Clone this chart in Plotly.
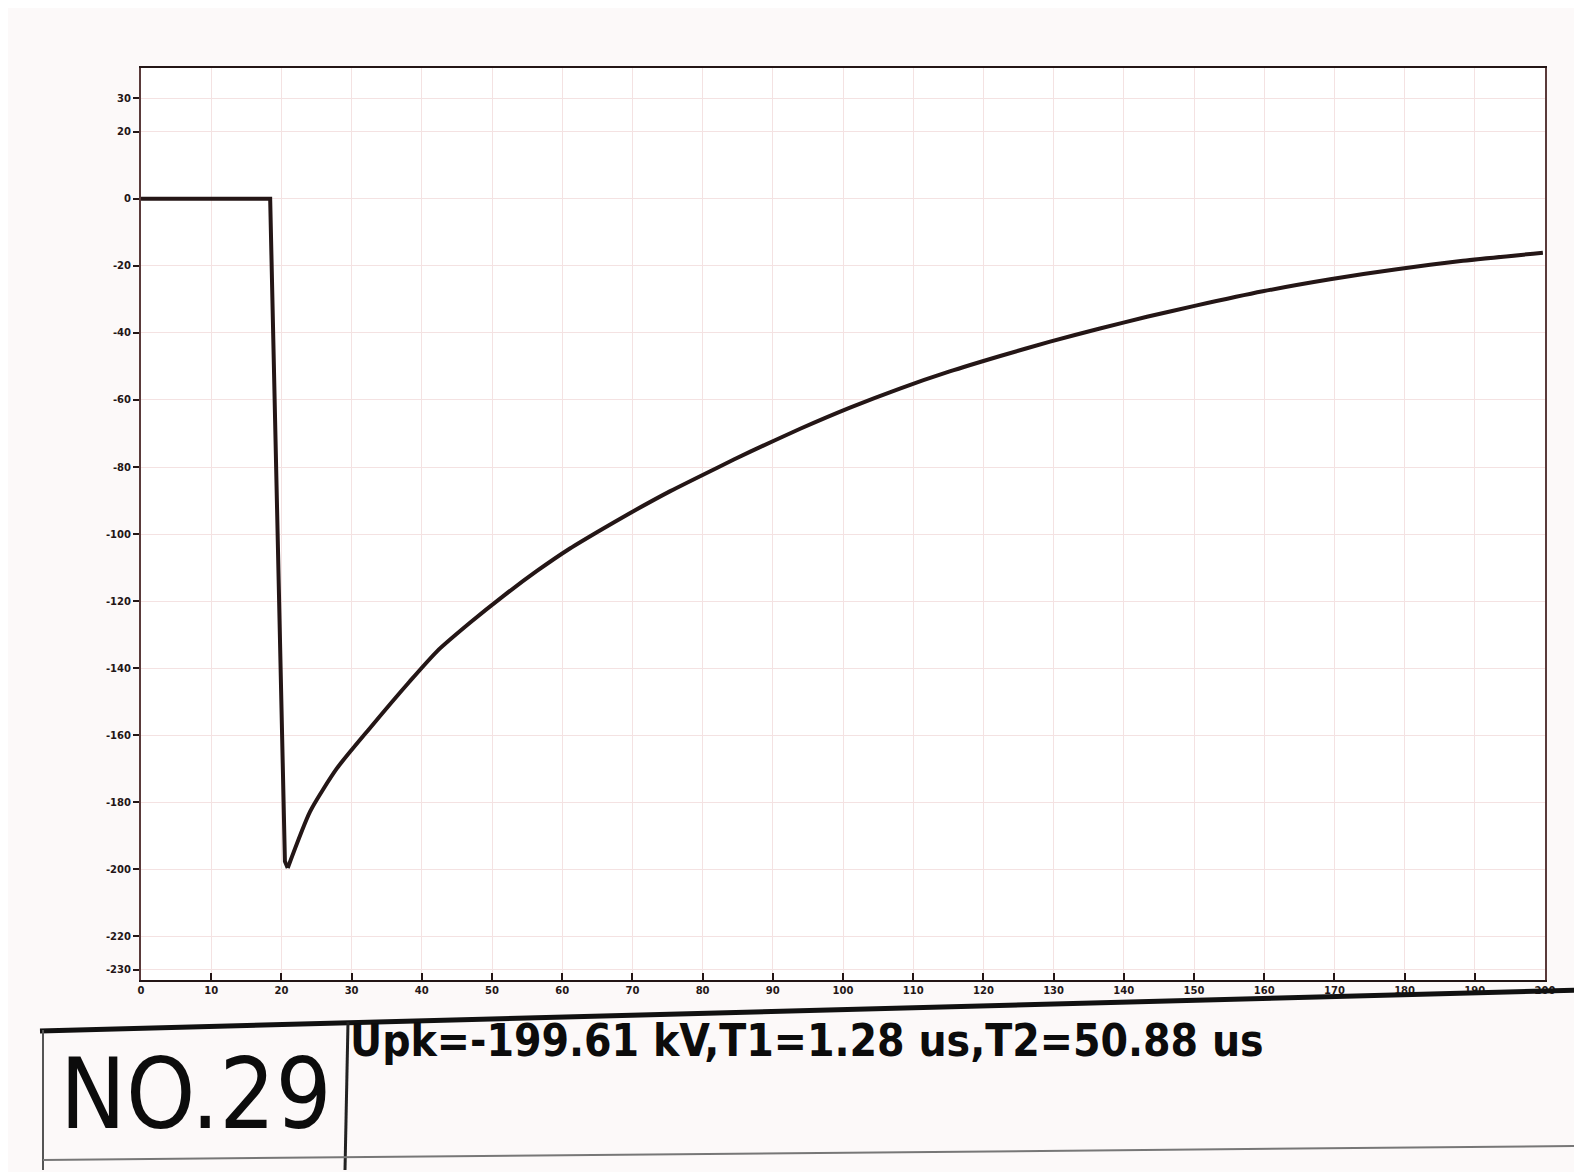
import plotly.graph_objects as go

# ---- data ----
time_us = [0, 18.4, 20.5, 20.9, 24.1, 27.9, 32.6, 38.3, 42.2, 46.9, 51.6, 56.4,
           61.1, 65.8, 69.2, 75.4, 82.1, 86.8, 93.9, 101.0, 108.1, 115.2, 122.4,
           129.5, 136.6, 143.3, 150.4, 159.8, 169.4, 178.9, 188.3, 199.7]
voltage_kv = [0, 0, -197.6, -199.6, -182.7, -169.9, -157.9, -143.9, -134.9, -126.4,
              -118.5, -111.0, -104.3, -98.4, -94.3, -87.2, -80.2, -75.4, -68.6,
              -62.3, -56.6, -51.5, -46.9, -42.6, -38.7, -35.2, -31.8, -27.6,
              -24.0, -21.0, -18.5, -16.1]
PEAK = 3  # index of the crest: front drawn straight, tail drawn smooth

x_ticks = list(range(0, 201, 10))
x_tick_text = [str(v) for v in x_ticks]
y_ticks = [-230] + list(range(-220, 21, 20)) + [30]
y_tick_text = [str(v) for v in y_ticks]

record_no = "NO.29"
record_info = "Upk=-199.61 kV,T1=1.28 us,T2=50.88 us"

# ---- layout geometry (reference pixels; page body adds an 8px margin) ----
OFF = 8
W, H = 1582 - OFF, 1172 - OFF
L, R, T, B = 141 - OFF, 1545 - OFF, 68 - OFF, 980 - OFF


def xp(px):
    return (px - OFF - L) / (R - L)


def yp(py):
    return (B - (py - OFF)) / (B - T)


ink = "#241616"

fig = go.Figure()
fig.add_trace(go.Scatter(x=time_us[:PEAK + 1], y=voltage_kv[:PEAK + 1], mode="lines",
                         line=dict(color=ink, width=4),
                         showlegend=False, hoverinfo="skip"))
fig.add_trace(go.Scatter(x=time_us[PEAK:], y=voltage_kv[PEAK:], mode="lines",
                         line=dict(color=ink, width=4, shape="spline", smoothing=0.6),
                         showlegend=False, hoverinfo="skip"))

tick_font = dict(size=10, color=ink, family="DejaVu Sans", weight="bold")
fig.update_layout(
    width=W, height=H,
    margin=dict(l=L, r=W - R, t=T, b=H - B),
    paper_bgcolor="#fcf9f9", plot_bgcolor="#ffffff",
    xaxis=dict(range=[0, 200], tickvals=x_ticks, ticktext=x_tick_text,
               ticks="inside", ticklen=7, tickwidth=2, tickcolor=ink,
               showline=True, linecolor=ink, linewidth=2, mirror=True,
               showgrid=True, gridcolor="#f4e2e2", gridwidth=1,
               zeroline=False, tickfont=tick_font),
    yaxis=dict(range=[-233, 39], tickvals=y_ticks, ticktext=y_tick_text,
               ticks="outside", ticklen=6, tickwidth=2, tickcolor=ink,
               showline=True, linecolor="#5a3a3a", linewidth=2, mirror=True,
               showgrid=True, gridcolor="#f4e2e2", gridwidth=1,
               zeroline=False, tickfont=tick_font),
)

shapes = [
    # table top (thick), slanted like the photo
    dict(type="line", xref="paper", yref="paper",
         x0=xp(40), y0=yp(1031), x1=xp(1582), y1=yp(990),
         line=dict(color="#111111", width=5)),
    # divider
    dict(type="line", xref="paper", yref="paper",
         x0=xp(348), y0=yp(1022), x1=xp(345), y1=yp(1170),
         line=dict(color="#222222", width=3)),
    # left edge
    dict(type="line", xref="paper", yref="paper",
         x0=xp(43), y0=yp(1030), x1=xp(43), y1=yp(1170),
         line=dict(color="#555555", width=2)),
    # bottom line
    dict(type="line", xref="paper", yref="paper",
         x0=xp(43), y0=yp(1160), x1=xp(1582), y1=yp(1146),
         line=dict(color="#777777", width=2)),
]
fig.update_layout(shapes=shapes)

fig.add_annotation(xref="paper", yref="paper", x=xp(58), y=yp(1094),
                   xanchor="left", yanchor="middle", showarrow=False,
                   text=record_no,
                   font=dict(size=98, color="#0c0c0c",
                             family="DejaVu Sans Condensed, DejaVu Sans, sans-serif"))
fig.add_annotation(xref="paper", yref="paper", x=xp(348), y=yp(1040),
                   xanchor="left", yanchor="middle", showarrow=False,
                   text=record_info,
                   font=dict(size=44, color="#0c0c0c", weight="bold",
                             family="DejaVu Sans Condensed, DejaVu Sans, sans-serif"))

fig.write_html("out.html")
